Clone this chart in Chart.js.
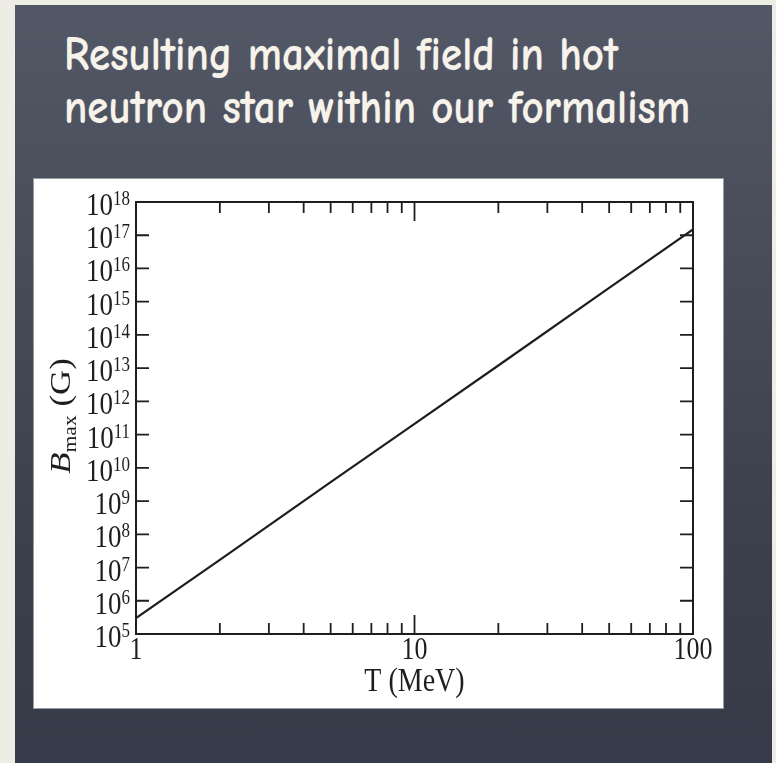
<!DOCTYPE html>
<html>
<head>
<meta charset="utf-8">
<script src="https://cdn.jsdelivr.net/npm/chart.js@4.4.1/dist/chart.umd.min.js"></script>
<style>
html,body{margin:0;padding:0;background:#eeede5;}
body{width:776px;height:763px;position:relative;overflow:hidden;}
#board{position:absolute;left:15px;top:5px;width:757px;height:758px;
  background:linear-gradient(#535866,#484c59 35%,#3c404d 70%,#373b49);}
#title{position:absolute;left:64px;top:27px;color:#f7f3ea;
  font-family:"Comic Sans MS","Comic Neue","Open Sans",sans-serif;font-size:43px;font-weight:bold;line-height:48px;
  transform:scaleY(1.12);transform-origin:0 0;
  text-shadow:0 0 1px rgba(255,255,255,0.4);white-space:nowrap;}
#panel{position:absolute;left:34px;top:179px;width:689px;height:529px;background:#fff;
  box-shadow:0 0 0 1px #9a9ca4;}
#chart{position:absolute;left:0;top:0;}
</style>
</head>
<body>
<div id="board"></div>
<div id="title">Resulting maximal field in hot<br>neutron star within our formalism</div>
<div id="panel"><canvas id="chart" width="689" height="529"></canvas></div>
<script>
// values
var temps = [1, 2, 5, 10, 20, 50, 100];                 // T (MeV)
var bmax  = [3.0e5, 1.7e7, 3.7e9, 2.1e11, 1.2e13, 2.6e15, 1.5e17]; // B_max (G)

var xMajor = [1, 10, 100];
var xMinor = [2,3,4,5,6,7,8,9,20,30,40,50,60,70,80,90];
var yExp = [5,6,7,8,9,10,11,12,13,14,15,16,17,18];

var points = [];
for (var i = 0; i < temps.length; i++) points.push({x: temps[i], y: bmax[i]});

var serif = '"Liberation Serif","Times New Roman",serif';
var ink = '#1e1e1e';

function stretchText(ctx, txt, x, y, size, align, italic) {
  ctx.save();
  ctx.translate(x, y);
  ctx.scale(1, 1.2);
  ctx.font = (italic ? 'italic ' : '') + size + 'px ' + serif;
  ctx.textAlign = align;
  ctx.textBaseline = 'alphabetic';
  ctx.fillText(txt, 0, 0);
  ctx.restore();
}

var frame = {
  id: 'frame',
  afterDraw: function(chart) {
    var ctx = chart.ctx, a = chart.chartArea;
    var sx = chart.scales.x, sy = chart.scales.y;
    ctx.save();
    ctx.strokeStyle = ink;
    ctx.fillStyle = ink;
    ctx.lineWidth = 2;
    ctx.strokeRect(a.left, a.top, a.right - a.left, a.bottom - a.top);

    // x ticks, bottom and top, pointing in
    ctx.lineWidth = 1.8;
    function xt(v, len) {
      var p = sx.getPixelForValue(v);
      ctx.beginPath();
      ctx.moveTo(p, a.bottom); ctx.lineTo(p, a.bottom - len);
      ctx.moveTo(p, a.top); ctx.lineTo(p, a.top + len);
      ctx.stroke();
    }
    xMinor.forEach(function(v){ xt(v, 11); });
    xMajor.forEach(function(v){ xt(v, 19); });

    // y ticks, left and right
    yExp.forEach(function(e){
      var p = sy.getPixelForValue(Math.pow(10, e));
      ctx.beginPath();
      ctx.moveTo(a.left, p); ctx.lineTo(a.left + 13, p);
      ctx.moveTo(a.right, p); ctx.lineTo(a.right - 13, p);
      ctx.stroke();
    });

    // y labels 10^n
    yExp.forEach(function(e){
      var p = sy.getPixelForValue(Math.pow(10, e));
      var ex = String(e);
      ctx.font = '17px ' + serif;
      var w = ctx.measureText(ex).width;
      var right = a.left - 6;
      stretchText(ctx, ex, right, p + 3, 17, 'right');
      stretchText(ctx, '10', right - w, p + 13, 27, 'right');
    });

    // x labels
    xMajor.forEach(function(v){
      stretchText(ctx, String(v), sx.getPixelForValue(v), a.bottom + 25, 26, 'center');
    });

    // x title
    stretchText(ctx, 'T (MeV)', (a.left + a.right) / 2, a.bottom + 57, 28, 'center');

    // y title, rotated: B_max (G)
    ctx.save();
    ctx.translate(a.left - 66, (a.top + a.bottom) / 2 - 2);
    ctx.rotate(-Math.PI / 2);
    ctx.scale(1.2, 1);
    ctx.textBaseline = 'alphabetic';
    ctx.textAlign = 'left';
    ctx.font = 'italic 29px ' + serif;
    var wB = ctx.measureText('B').width;
    ctx.font = '18px ' + serif;
    var wSub = ctx.measureText('max').width;
    ctx.font = '29px ' + serif;
    var wG = ctx.measureText(' (G)').width;
    var x0 = -(wB + wSub + wG) / 2;
    ctx.font = 'italic 29px ' + serif;
    ctx.fillText('B', x0, 0);
    ctx.font = '18px ' + serif;
    ctx.fillText('max', x0 + wB, 6);
    ctx.font = '29px ' + serif;
    ctx.fillText(' (G)', x0 + wB + wSub, 0);
    ctx.restore();

    ctx.restore();
  }
};

new Chart(document.getElementById('chart'), {
  type: 'line',
  data: {
    datasets: [{
      data: points,
      borderColor: ink,
      borderWidth: 2.2,
      pointRadius: 0,
      tension: 0,
      fill: false
    }]
  },
  options: {
    responsive: false,
    animation: false,
    layout: { padding: { left: 102, top: 23, right: 30, bottom: 74 } },
    plugins: { legend: { display: false }, tooltip: { enabled: false } },
    scales: {
      x: {
        type: 'logarithmic', min: 1, max: 100,
        grid: { display: false }, border: { display: false },
        ticks: { display: false },
        afterFit: function(s){ s.height = 0; }
      },
      y: {
        type: 'logarithmic', min: 1e5, max: 1e18,
        grid: { display: false }, border: { display: false },
        ticks: { display: false },
        afterFit: function(s){ s.width = 0; }
      }
    }
  },
  plugins: [frame]
});
</script>
</body>
</html>
